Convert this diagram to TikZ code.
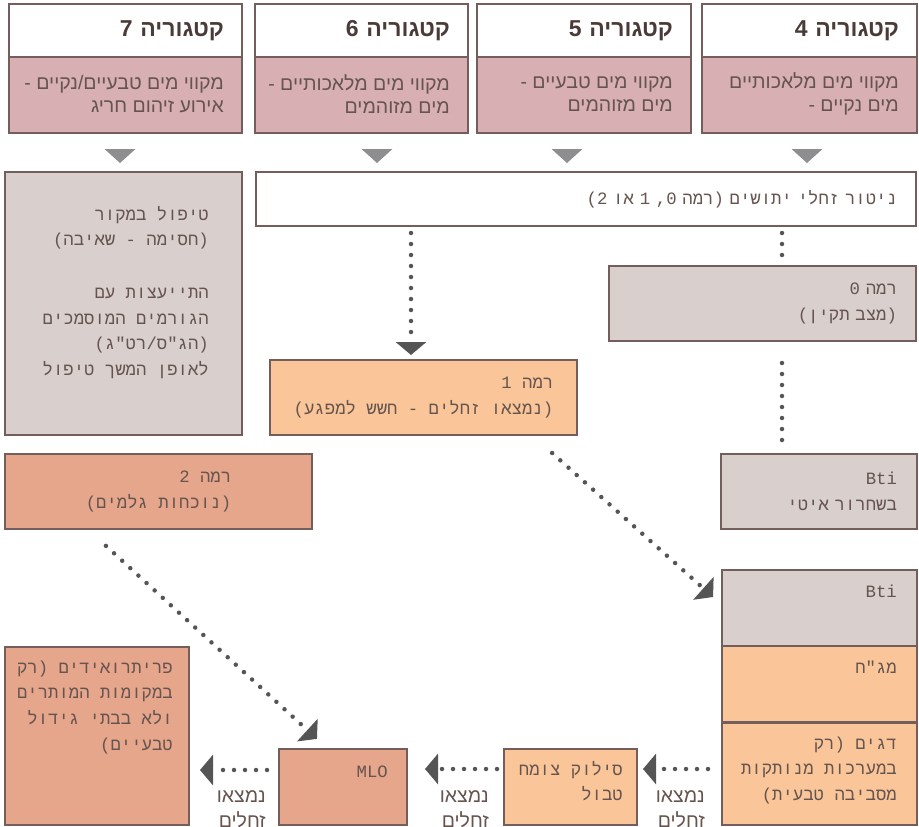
\documentclass[tikz,border=0pt]{standalone}
\usepackage{fontspec}
\usetikzlibrary{arrows.meta,positioning}
\newfontfamily\hebsans[Script=Hebrew]{Liberation Sans}
\newfontfamily\hebmono[Script=Hebrew]{Liberation Mono}
\TeXXeTstate=1
\newcommand\rl[1]{\beginR #1\endR}
\definecolor{edge}{HTML}{735E5B}
\definecolor{pinkfill}{HTML}{D8AFB3}
\definecolor{greyfill}{HTML}{D9CFCD}
\definecolor{orangefill}{HTML}{FAC699}
\definecolor{salmonfill}{HTML}{E6A68B}
\definecolor{inktext}{HTML}{65544F}
\definecolor{headtext}{HTML}{4A3A38}
\definecolor{dotcol}{HTML}{555555}
\definecolor{markcol}{HTML}{8E8E91}
\tikzset{
    box/.style={draw=edge, line width=1.5pt, inner sep=0pt, outer sep=0pt},
    head/.style={box, fill=white, text=headtext, align=right, inner xsep=18pt, minimum height=53pt,
        font=\hebsans\bfseries\fontsize{23}{26}\selectfont},
    sub/.style={box, fill=pinkfill, minimum height=76pt},
    subtext/.style={text=inktext, align=right, inner sep=0pt, anchor=east, font=\hebsans\fontsize{19.5}{23}\selectfont},
    mono/.style={text=inktext, align=right, inner sep=0pt, font=\hebmono\fontsize{17.3}{25.7}\selectfont},
    found/.style={text=inktext, align=right, inner sep=0pt, font=\hebsans\fontsize{19.5}{25.5}\selectfont},
    dotline/.style={draw=dotcol, line width=4.5pt, line cap=round, dash pattern=on 0pt off 11pt},
    dotarrow/.style={dotline, -{Triangle[width=30pt,length=13pt]}, dotcol}
}
\begin{document}
\begin{tikzpicture}[x=1pt,y=-1pt]
    \useasboundingbox (0,0) rectangle (919,827);

    % categories
    \node[head, text width=197pt] (head7) at (125.5,30.5) {\rl{קטגוריה 7}};
    \node[head, text width=177pt] (head6) at (361.5,30.5) {\rl{קטגוריה 6}};
    \node[head, text width=178pt] (head5) at (584,30.5) {\rl{קטגוריה 5}};
    \node[head, text width=179pt] (head4) at (809.5,30.5) {\rl{קטגוריה 4}};
    \node[sub, minimum width=233pt] (sub7) at (125.5,95) {};
    \node[sub, minimum width=213pt] (sub6) at (361.5,95) {};
    \node[sub, minimum width=214pt] (sub5) at (584,95) {};
    \node[sub, minimum width=215pt] (sub4) at (809.5,95) {};
    \node[subtext] (sub7text) at ([xshift=-18pt,yshift=1pt]sub7.east) {\rl{מקווי מים טבעיים/נקיים -}\\\rl{אירוע זיהום חריג}};
    \node[subtext] (sub6text) at ([xshift=-18pt,yshift=1pt]sub6.east) {\rl{מקווי מים מלאכותיים -}\\\rl{מים מזוהמים}};
    \node[subtext] (sub5text) at ([xshift=-18pt,yshift=1pt]sub5.east) {\rl{מקווי מים טבעיים -}\\\rl{מים מזוהמים}};
    \node[subtext] (sub4text) at ([xshift=-18pt,yshift=1pt]sub4.east) {\rl{מקווי מים מלאכותיים}\\\rl{מים נקיים -}};
    \foreach \c in {120,377,567,807}
        \fill[markcol] (\c-15.5,149) -- (\c+15.5,149) -- (\c,163) -- cycle;

    % monitoring and levels
    \node[box, fill=white, mono, text width=622pt, inner xsep=19pt, minimum height=54pt] (monitor) at (586,199)
        {\rl{ניטור זחלי יתושים (רמה 0, 1 או 2)}};
    \node[box, fill=greyfill, minimum width=237pt, minimum height=263pt] (source) at (123.5,303.5) {};
    \node[mono, anchor=north east] (sourcetext) at ([xshift=-33pt,yshift=-30pt]source.north east)
        {\strut\rl{טיפול במקור}\\\rl{(חסימה - שאיבה)}\\[27pt]\rl{התייעצות עם}\\\rl{הגורמים המוסמכים}\\\rl{(הג"ס/רט"ג)}\\\rl{לאופן המשך טיפול}};
    \node[box, fill=greyfill, mono, text width=269pt, inner xsep=19pt, minimum height=75pt] (level0) at (762.5,303.5)
        {\rl{רמה 0}\\\rl{(מצב תקין)}};
    \node[box, fill=orangefill, mono, minimum width=307pt, minimum height=75pt] (level1) at (423.5,397.5)
        {\rl{רמה 1}\\\rl{(נמצאו זחלים - חשש למפגע)}};
    \node[box, fill=salmonfill, mono, minimum width=307pt, minimum height=75pt] (level2) at (158.5,491.5)
        {\rl{רמה 2}\\\rl{(נוכחות גלמים)}};
    \node[box, fill=greyfill, mono, text width=156pt, inner xsep=20pt, minimum height=75pt] (btislow) at (819,491.5)
        {Bti\\\rl{בשחרור איטי}};

    % treatments
    \node[box, fill=greyfill, minimum width=195pt, minimum height=75.5pt] (bti) at (819.5,607.75) {};
    \node[box, fill=orangefill, minimum width=195pt, minimum height=75.5pt] (mgh) at (819.5,684.25) {};
    \node[box, fill=orangefill, minimum width=195pt, minimum height=102pt] (fish) at (819.5,774) {};
    \node[box, fill=orangefill, minimum width=133pt, minimum height=76pt] (weed) at (570.5,787) {};
    \node[box, fill=salmonfill, minimum width=128pt, minimum height=76pt] (mlo) at (343,787) {};
    \node[box, fill=salmonfill, minimum width=184pt, minimum height=178pt] (pyr) at (97,736) {};
    \node[mono, anchor=north east] (btitext) at ([xshift=-20pt,yshift=-9pt]bti.north east) {\strut Bti};
    \node[mono, anchor=north east] (mghtext) at ([xshift=-20pt,yshift=-9pt]mgh.north east) {\strut\rl{מג"ח}};
    \node[mono, anchor=north east] (fishtext) at ([xshift=-20pt,yshift=-8pt]fish.north east)
        {\strut\rl{דגים (רק}\\\rl{במערכות מנותקות}\\\rl{מסביבה טבעית)}};
    \node[mono, anchor=north east] (weedtext) at ([xshift=-14pt,yshift=-8pt]weed.north east)
        {\strut\rl{סילוק צומח}\\\rl{טבול}};
    \node[mono, anchor=north east] (mlotext) at ([xshift=-19pt,yshift=-10pt]mlo.north east) {\strut MLO};
    \node[mono, anchor=north east] (pyrtext) at ([xshift=-16pt,yshift=-8pt]pyr.north east)
        {\strut\rl{פריתרואידים (רק}\\\rl{במקומות המותרים}\\\rl{ולא בבתי גידול}\\\rl{טבעיים)}};
    \node[found, anchor=north east] (found1) at (705,784) {\strut\rl{נמצאו}\\\rl{זחלים}};
    \node[found, anchor=north east] (found2) at (489,784) {\strut\rl{נמצאו}\\\rl{זחלים}};
    \node[found, anchor=north east] (found3) at (266,784) {\strut\rl{נמצאו}\\\rl{זחלים}};

    % dotted connectors
    \draw[dotarrow, shorten <=7pt, shorten >=5pt] ([xshift=-175pt]monitor.south) -- ([xshift=-12.5pt]level1.north);
    \draw[dotline, shorten <=7pt, shorten >=9pt] ([xshift=196pt]monitor.south) -- ([xshift=19.5pt]level0.north);
    \draw[dotline, shorten <=22pt, shorten >=9pt] ([xshift=19.5pt]level0.south) -- ([xshift=-37pt]btislow.north);
    \draw[dotarrow, shorten <=27pt, shorten >=12pt] ([xshift=108.5pt]level1.south) -- ([yshift=2.75pt]bti.west);
    \draw[dotarrow, shorten <=25pt, shorten >=15pt] ([xshift=-71pt]level2.south) -- ([xshift=-15pt]mlo.north);
    \draw[dotarrow, shorten <=14pt, shorten >=6pt] ([yshift=5pt]fish.west) -- ([yshift=18pt]weed.east);
    \draw[dotarrow, shorten <=7pt, shorten >=18pt] ([yshift=18pt]weed.west) -- ([yshift=18pt]mlo.east);
    \draw[dotarrow, shorten <=12pt, shorten >=11pt] ([yshift=17pt]mlo.west) -- ([yshift=-34pt]pyr.east);
\end{tikzpicture}
\end{document}
